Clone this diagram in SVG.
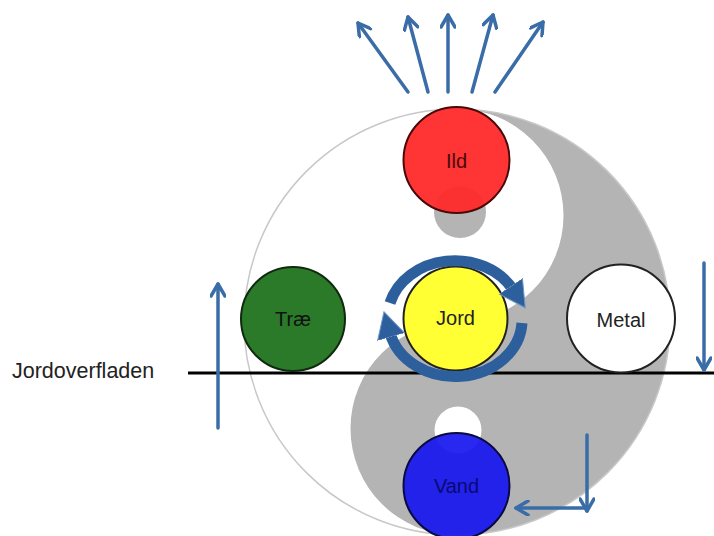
<svg xmlns="http://www.w3.org/2000/svg" width="714" height="536" viewBox="0 0 714 536">
<style>
.lbl{font-family:"Liberation Sans",Arial,sans-serif;font-size:20px;text-anchor:middle}
.arr{fill:none;stroke:#3a6ca8;stroke-width:3.5;stroke-linecap:round}
.cyc{fill:none;stroke:#2c5f9c;stroke-width:11}
</style>
<defs>
<marker id="ah" markerUnits="userSpaceOnUse" viewBox="0 0 16 16" markerWidth="16" markerHeight="16" refX="14" refY="8" orient="auto">
<path d="M2,1 L14,8 L2,15" fill="none" stroke="#3a6ca8" stroke-width="3.5" stroke-linecap="round" stroke-linejoin="round"/>
</marker>
<marker id="bh" markerUnits="userSpaceOnUse" viewBox="0 0 30 30" markerWidth="30" markerHeight="30" refX="4" refY="15" orient="auto">
<path d="M0,1 L26,15 L0,29 z" fill="#2c5f9c" stroke="#6f95c4" stroke-width="1"/>
</marker>
</defs>
<rect width="714" height="536" fill="#ffffff"/>
<g id="yinyang">
<circle cx="457" cy="322" r="213" fill="#ffffff"/>
<path d="M457,109 A213,213 0 0 1 457,535 A106.5,106.5 0 0 1 457,322 A106.5,106.5 0 0 0 457,109 z" fill="#b4b4b4"/>
<circle cx="457" cy="322" r="213" fill="none" stroke="#c8c8c8" stroke-width="1.5"/>
<circle cx="460" cy="212" r="26" fill="#b4b4b4"/>
<circle cx="458" cy="430" r="23.5" fill="#ffffff"/>
</g>
<line x1="188" y1="373" x2="714" y2="373" stroke="#000000" stroke-width="3"/>
<text x="12" y="378" style="font-family:'Liberation Sans',Arial,sans-serif;font-size:21.5px;fill:#222">Jordoverfladen</text>
<g id="Ild">
<circle cx="456.5" cy="160" r="53" fill="#ff2a2a" fill-opacity="0.95" stroke="#4a0808" stroke-width="2"/>
<text class="lbl" x="456.5" y="168" fill="#4a0a0a">Ild</text>
</g>
<g id="Trae">
<circle cx="293" cy="319" r="52" fill="#2a7a2a" stroke="#0f2a0f" stroke-width="2"/>
<text class="lbl" x="293" y="326" fill="#111">Træ</text>
</g>
<g id="Jord">
<circle cx="455.5" cy="318.5" r="52" fill="#ffff33" stroke="#222" stroke-width="2"/>
<text class="lbl" x="455.5" y="325" fill="#222">Jord</text>
</g>
<g id="Metal">
<circle cx="621" cy="318.5" r="54" fill="#ffffff" stroke="#222" stroke-width="2"/>
<text class="lbl" x="621" y="327" fill="#222">Metal</text>
</g>
<g id="Vand">
<circle cx="456.5" cy="486" r="53" fill="#1616f0" fill-opacity="0.92" stroke="#0a0a40" stroke-width="2"/>
<text class="lbl" x="456.5" y="493" fill="#0a0a70">Vand</text>
</g>
<g id="connectors">
<line class="arr" x1="408" y1="92" x2="358" y2="23" marker-end="url(#ah)"/>
<line class="arr" x1="428" y1="92" x2="408" y2="17" marker-end="url(#ah)"/>
<line class="arr" x1="448" y1="92" x2="448" y2="15" marker-end="url(#ah)"/>
<line class="arr" x1="472" y1="92" x2="493" y2="15" marker-end="url(#ah)"/>
<line class="arr" x1="495" y1="92" x2="543" y2="22" marker-end="url(#ah)"/>
<line class="arr" x1="218" y1="428" x2="218" y2="284" marker-end="url(#ah)"/>
<line class="arr" x1="704" y1="263" x2="704" y2="370" marker-end="url(#ah)"/>
<line class="arr" x1="587" y1="435" x2="587" y2="511" marker-end="url(#ah)"/>
<line class="arr" x1="585" y1="508" x2="516" y2="508" marker-end="url(#ah)"/>
<path class="cyc" d="M390,303 A67,57 0 0 1 513,289.5" marker-end="url(#bh)"/>
<path class="cyc" d="M522,323 A67,57 0 0 1 390,333" marker-end="url(#bh)"/>
</g>
</svg>
